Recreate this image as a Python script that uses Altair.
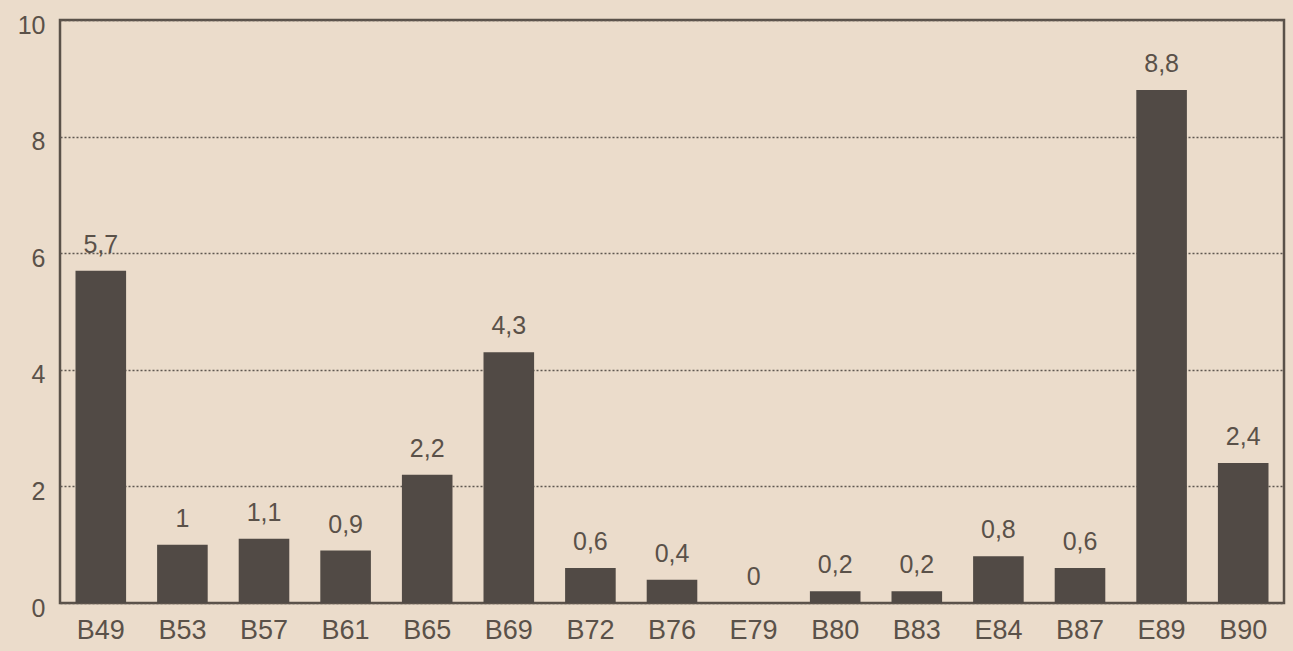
import altair as alt
import pandas as pd

# Series: code per period and its value
codes = ["B49", "B53", "B57", "B61", "B65", "B69", "B72", "B76",
         "E79", "B80", "B83", "E84", "B87", "E89", "B90"]
values = [5.7, 1.0, 1.1, 0.9, 2.2, 4.3, 0.6, 0.4,
          0.0, 0.2, 0.2, 0.8, 0.6, 8.8, 2.4]
y_ticks = [0, 2, 4, 6, 8, 10]

df = pd.DataFrame({"code": codes, "value": values})

BG = "#ebdccb"
BAR = "#514a45"
INK = "#5a5149"
FONT = "Liberation Sans"

base = alt.Chart(df).encode(
    x=alt.X("code:N", sort=codes, title=None,
            scale=alt.Scale(paddingInner=0.38, paddingOuter=0.19),
            axis=alt.Axis(labelAngle=0, ticks=False, domain=False,
                          labelFontSize=27, labelColor=INK, labelFont=FONT,
                          labelPadding=14)),
    y=alt.Y("value:Q", title=None,
            scale=alt.Scale(domain=[0, 10], nice=False),
            axis=alt.Axis(values=y_ticks, ticks=False, domain=False,
                          labelFontSize=25, labelColor=INK, labelFont=FONT,
                          labelPadding=15, labelOffset=5,
                          grid=True, gridColor="#5f5750", gridDash=[2, 2],
                          gridWidth=1.4)),
)

bars = base.mark_bar(color=BAR)

labels = base.transform_calculate(
    label="replace(toString(datum.value), '.', ',')"
).mark_text(
    baseline="alphabetic", dy=-18, fontSize=25, color=INK, font=FONT
).encode(text="label:N")

chart = (bars + labels).properties(
    width=1224, height=583,
    background=BG,
    padding={"left": 60, "top": 20, "right": 9, "bottom": 48},
    autosize=alt.AutoSizeParams(type="none"),
).configure_view(
    stroke=INK, strokeWidth=2.5, fill=BG
)

chart.save("out.html", embed_options={"renderer": "svg", "actions": False})
